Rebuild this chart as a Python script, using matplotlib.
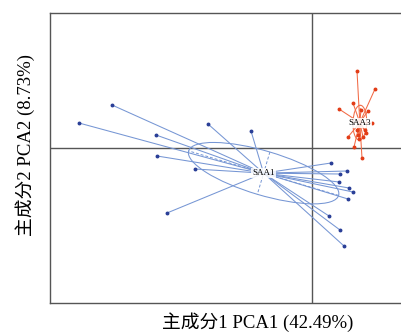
import numpy as np
import matplotlib
matplotlib.use("Agg")
import matplotlib.pyplot as plt
from matplotlib.patches import Ellipse

# PCA scores
saa1_x = [-2.00, -2.33, -1.56, -1.04, -0.61, -1.55, -1.17, -1.45, 0.19, 0.35,
          0.28, 0.27, 0.37, 0.41, 0.36, 0.17, 0.28, 0.32]
saa1_y = [0.43, 0.25, 0.13, 0.24, 0.17, -0.08, -0.21, -0.65, -0.15, -0.23,
          -0.26, -0.34, -0.40, -0.44, -0.51, -0.68, -0.82, -0.98]
saa3_x = [0.45, 0.63, 0.27, 0.41, 0.56, 0.60, 0.36, 0.42, 0.50, 0.47, 0.51,
          0.53, 0.49, 0.46, 0.54, 0.45]
saa3_y = [0.77, 0.59, 0.39, 0.45, 0.37, 0.25, 0.11, 0.01, -0.10, 0.09, 0.11,
          0.18, 0.38, 0.13, 0.15, 0.18]
groups = ["SAA1", "SAA3"]
xlabel = "主成分1 PCA1 (42.49%)"
ylabel = "主成分2 PCA2 (8.73%)"

fam = ["Liberation Serif", "Noto Sans CJK SC"]

fig = plt.figure(figsize=(4.02, 3.35), dpi=100)
ax = fig.add_axes([50 / 402, 32 / 335, 352 / 402, 290 / 335])
ax.set_xlim(-2.62, 0.90)
ax.set_ylim(-1.55, 1.35)

ax.axhline(0, color="#555555", lw=1.0, zorder=1)
ax.axvline(0, color="#555555", lw=1.0, zorder=1)


def draw_group(xs, ys, name, line_c, pt_c):
    xs = np.array(xs)
    ys = np.array(ys)
    cx, cy = xs.mean(), ys.mean()
    for x, y in zip(xs, ys):
        ax.plot([cx, x], [cy, y], color=line_c, lw=0.75, zorder=2)
    ax.plot(xs, ys, "o", ms=1.8, color=pt_c, zorder=3)
    # ellipse from covariance
    cov = np.cov(xs, ys, bias=True)
    vals, vecs = np.linalg.eigh(cov)
    order = vals.argsort()[::-1]
    vals, vecs = vals[order], vecs[:, order]
    k = 0.8
    a, b = k * np.sqrt(vals[0]), k * np.sqrt(vals[1])
    ang = np.degrees(np.arctan2(vecs[1, 0], vecs[0, 0]))
    ax.add_patch(Ellipse((cx, cy), 2 * a, 2 * b, angle=ang, fill=False,
                         ec=line_c, lw=0.75, zorder=2))
    for v, r in ((vecs[:, 0], a), (vecs[:, 1], b)):
        ax.plot([cx - r * v[0], cx + r * v[0]], [cy - r * v[1], cy + r * v[1]],
                color=line_c, lw=0.7, ls=(0, (3, 2)), zorder=2)
    ax.text(cx, cy, name, fontsize=6.5, family=fam, ha="center", va="center",
            zorder=4, bbox=dict(boxstyle="square,pad=0.1", fc="white",
                                ec="none", alpha=0.85))


draw_group(saa1_x, saa1_y, groups[0], "#7696d4", "#2a3f97")
draw_group(saa3_x, saa3_y, groups[1], "#f26a45", "#e23c17")

ax.set_xticks([])
ax.set_yticks([])
for s in ["left", "top", "bottom"]:
    ax.spines[s].set_color("#555555")
    ax.spines[s].set_linewidth(1.0)
ax.spines["right"].set_visible(False)

fig.text(258 / 402, 1 - 322 / 335, xlabel, family=fam, fontsize=13.5,
         ha="center", va="center")
fig.text(25 / 402, 1 - 145 / 335, ylabel, family=fam, fontsize=13.5,
         ha="center", va="center", rotation=90)

fig.savefig("out.png", dpi=100)
